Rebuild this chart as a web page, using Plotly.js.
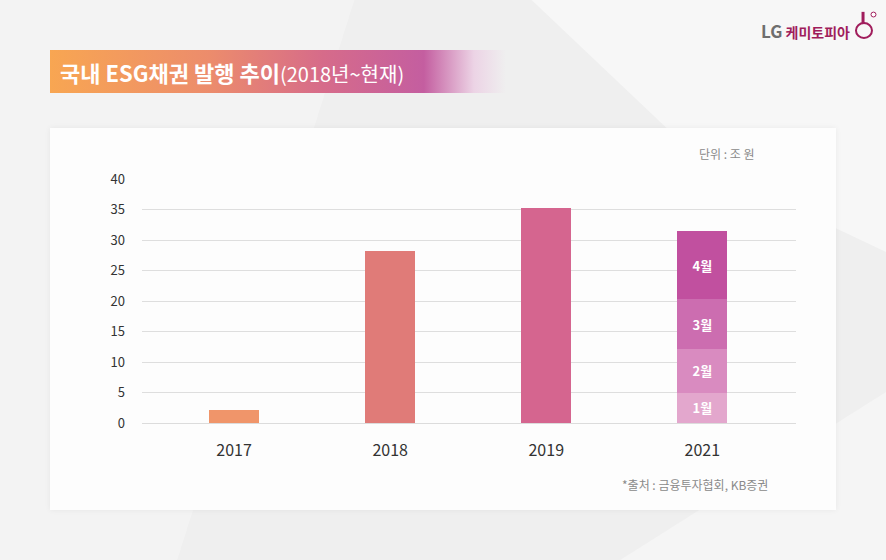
<!DOCTYPE html>
<html>
<head>
<meta charset="utf-8">
<script src="https://cdn.plot.ly/plotly-3.0.1.min.js"></script>
<style>
  html, body { margin:0; padding:0; width:886px; height:560px; overflow:hidden; }
  body { background:#efefef; position:relative; font-family:"Noto Sans CJK KR","Noto Sans",sans-serif; }
  .poly { position:absolute; left:0; top:0; width:886px; height:560px; }
  #card { position:absolute; left:50px; top:128px; width:786px; height:382px; background:#fdfdfd; box-shadow:0 0 6px rgba(0,0,0,0.06); }
  #banner { position:absolute; left:50px; top:50px; width:456px; height:43px;
    background:linear-gradient(90deg,#f8a652 0%,#ec8c6c 35%,#d66b8a 60%,#c45ea0 82%,rgba(235,200,225,0.7) 93%,rgba(255,255,255,0) 100%); }
  #chart { position:absolute; left:0; top:0; width:886px; height:560px; }
</style>
</head>
<body>
<div class="poly" style="clip-path:polygon(0 0,40% 0,20% 100%,0 100%);background:#f3f3f3"></div>
<div class="poly" style="clip-path:polygon(60% 0,100% 0,100% 45%,80% 30%);background:#f7f7f7"></div>
<div class="poly" style="clip-path:polygon(70% 100%,100% 70%,100% 100%);background:#f5f5f5"></div>
<div id="card"></div>
<div id="banner"></div>
<div id="chart"></div>
<script>
const years = ['2017', '2018', '2019', '2021'];
const annualYears = ['2017', '2018', '2019'];
const annualValues = [2.1, 28.2, 35.2];
const annualColors = ['#f0956a', '#e07b78', '#d5658f'];
const months = ['1월', '2월', '3월', '4월'];
const monthValues2021 = [5.0, 7.1, 8.2, 11.1];
const monthColors = ['#e3a7cd', '#d98bc0', '#cc6db0', '#c1509f'];
const yTicks = [0, 5, 10, 15, 20, 25, 30, 35, 40];

const FONT = '"Noto Sans CJK KR", "Noto Sans", sans-serif';
const BW = 0.32;

const traces = [{
  type: 'bar', x: annualYears, y: annualValues, width: BW,
  marker: { color: annualColors, line: { width: 0 } },
  hoverinfo: 'x+y', showlegend: false
}];
months.forEach((m, i) => {
  traces.push({
    type: 'bar', x: ['2021'], y: [monthValues2021[i]], width: BW, name: m,
    marker: { color: monthColors[i], line: { width: 0 } },
    text: [m], textposition: 'inside', insidetextanchor: 'middle',
    textfont: { color: '#ffffff', size: 13, family: FONT, weight: 600 },
    showlegend: false
  });
});

const layout = {
  width: 886, height: 560,
  paper_bgcolor: 'rgba(0,0,0,0)', plot_bgcolor: 'rgba(0,0,0,0)',
  margin: { l: 142, r: 90, t: 179, b: 137 },
  barmode: 'stack',
  font: { family: FONT, color: '#333' },
  xaxis: {
    type: 'category', categoryorder: 'array', categoryarray: years,
    range: [-0.59, 3.6], showgrid: false, zeroline: false, showline: false,
    ticks: '', tickfont: { size: 16, color: '#333', family: FONT },
    ticklabelstandoff: 16, fixedrange: true
  },
  yaxis: {
    range: [0, 40], tickvals: yTicks, ticktext: yTicks.map(String),
    showgrid: true, gridcolor: '#dedede', gridwidth: 1,
    zeroline: true, zerolinecolor: '#dcdcdc', zerolinewidth: 1,
    showline: false, ticks: '',
    tickfont: { size: 13, color: '#333', family: FONT },
    ticklabelstandoff: 16, fixedrange: true
  },
  annotations: [
    { xref: 'paper', yref: 'paper', x: -0.1284, y: 1.4385, xanchor: 'left', yanchor: 'middle',
      showarrow: false,
      text: '<b>국내 ESG채권 발행 추이</b><span style="font-size:20px">(2018년~현재)</span>',
      font: { size: 22, color: '#ffffff', family: FONT } },
    { xref: 'paper', yref: 'paper', x: 0.94, y: 1.105, xanchor: 'right', yanchor: 'middle',
      showarrow: false, text: '단위 : 조 원', font: { size: 12, color: '#8a8a8a', family: FONT } },
    { xref: 'paper', yref: 'paper', x: 0.96, y: -0.25, xanchor: 'right', yanchor: 'middle',
      showarrow: false, text: '*출처 : 금융투자협회, KB증권', font: { size: 12, color: '#8a8a8a', family: FONT } },
    { xref: 'paper', yref: 'paper', x: 1.0856, y: 1.6066, xanchor: 'right', yanchor: 'middle',
      showarrow: false,
      text: '<b><span style="color:#6e6e6e;font-size:17px">LG</span> <span style="color:#a01d5c">케미토피아</span></b>',
      font: { size: 14, family: FONT } }
  ],
  shapes: [
    { type: 'circle', xref: 'paper', yref: 'paper', x0: 1.0917, x1: 1.1162, y0: 1.578, y1: 1.639,
      line: { color: '#a01d5c', width: 2 }, fillcolor: 'rgba(0,0,0,0)' },
    { type: 'line', xref: 'paper', yref: 'paper', x0: 1.1025, x1: 1.1025, y0: 1.635, y1: 1.685,
      line: { color: '#a01d5c', width: 3 } },
    { type: 'circle', xref: 'paper', yref: 'paper', x0: 1.1147, x1: 1.1223, y0: 1.664, y1: 1.684,
      line: { color: '#a01d5c', width: 1 }, fillcolor: '#ffffff' }
  ]
};

Plotly.newPlot('chart', traces, layout, { displayModeBar: false, staticPlot: true });
</script>
</body>
</html>
